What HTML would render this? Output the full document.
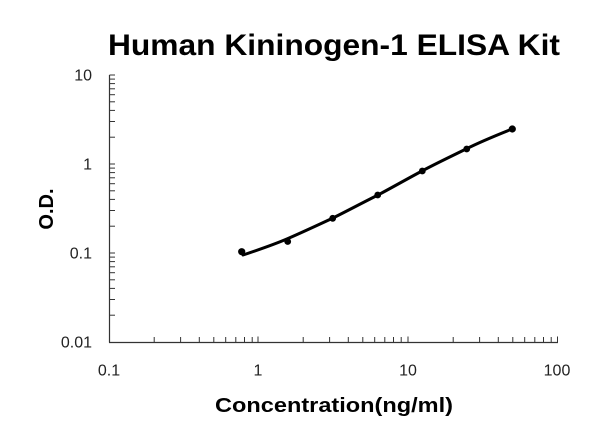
<!DOCTYPE html>
<html>
<head>
<meta charset="utf-8">
<style>
html,body{margin:0;padding:0;background:#fff;}
svg{display:block;}
text{font-family:"Liberation Sans",Arial,sans-serif;}
</style>
</head>
<body>
<svg width="600" height="439" viewBox="0 0 600 439" xmlns="http://www.w3.org/2000/svg">
<rect width="600" height="439" fill="#fff"/>
<text x="334" y="55" font-size="30" font-weight="bold" text-anchor="middle" textLength="452" lengthAdjust="spacingAndGlyphs" fill="#000">Human Kininogen-1 ELISA Kit</text>
<g stroke="#333" stroke-width="1.2" fill="none">
<line x1="109.5" y1="75" x2="109.5" y2="342.5"/>
<line x1="109" y1="342.5" x2="558" y2="342.5"/>
</g>
<g stroke="#333" stroke-width="1">
<line x1="109.5" y1="75" x2="115" y2="75"/>
<line x1="109.5" y1="164" x2="115" y2="164"/>
<line x1="109.5" y1="253" x2="115" y2="253"/>
<line x1="109.5" y1="137.2" x2="115" y2="137.2"/>
<line x1="109.5" y1="121.5" x2="115" y2="121.5"/>
<line x1="109.5" y1="110.4" x2="115" y2="110.4"/>
<line x1="109.5" y1="101.8" x2="115" y2="101.8"/>
<line x1="109.5" y1="94.7" x2="115" y2="94.7"/>
<line x1="109.5" y1="88.8" x2="115" y2="88.8"/>
<line x1="109.5" y1="83.6" x2="115" y2="83.6"/>
<line x1="109.5" y1="79.1" x2="115" y2="79.1"/>
<line x1="109.5" y1="226.2" x2="115" y2="226.2"/>
<line x1="109.5" y1="210.5" x2="115" y2="210.5"/>
<line x1="109.5" y1="199.4" x2="115" y2="199.4"/>
<line x1="109.5" y1="190.8" x2="115" y2="190.8"/>
<line x1="109.5" y1="183.7" x2="115" y2="183.7"/>
<line x1="109.5" y1="177.8" x2="115" y2="177.8"/>
<line x1="109.5" y1="172.6" x2="115" y2="172.6"/>
<line x1="109.5" y1="168.1" x2="115" y2="168.1"/>
<line x1="109.5" y1="315.2" x2="115" y2="315.2"/>
<line x1="109.5" y1="299.5" x2="115" y2="299.5"/>
<line x1="109.5" y1="288.4" x2="115" y2="288.4"/>
<line x1="109.5" y1="279.8" x2="115" y2="279.8"/>
<line x1="109.5" y1="272.7" x2="115" y2="272.7"/>
<line x1="109.5" y1="266.8" x2="115" y2="266.8"/>
<line x1="109.5" y1="261.6" x2="115" y2="261.6"/>
<line x1="109.5" y1="257.1" x2="115" y2="257.1"/>
<line x1="258" y1="342.5" x2="258" y2="336.5"/>
<line x1="408" y1="342.5" x2="408" y2="336.5"/>
<line x1="557.5" y1="342.5" x2="557.5" y2="336.5"/>
<line x1="154.2" y1="342.5" x2="154.2" y2="337"/>
<line x1="180.6" y1="342.5" x2="180.6" y2="337"/>
<line x1="199.3" y1="342.5" x2="199.3" y2="337"/>
<line x1="213.8" y1="342.5" x2="213.8" y2="337"/>
<line x1="225.7" y1="342.5" x2="225.7" y2="337"/>
<line x1="235.8" y1="342.5" x2="235.8" y2="337"/>
<line x1="244.5" y1="342.5" x2="244.5" y2="337"/>
<line x1="252.2" y1="342.5" x2="252.2" y2="337"/>
<line x1="303.2" y1="342.5" x2="303.2" y2="337"/>
<line x1="329.6" y1="342.5" x2="329.6" y2="337"/>
<line x1="348.3" y1="342.5" x2="348.3" y2="337"/>
<line x1="362.8" y1="342.5" x2="362.8" y2="337"/>
<line x1="374.7" y1="342.5" x2="374.7" y2="337"/>
<line x1="384.8" y1="342.5" x2="384.8" y2="337"/>
<line x1="393.5" y1="342.5" x2="393.5" y2="337"/>
<line x1="401.2" y1="342.5" x2="401.2" y2="337"/>
<line x1="453.2" y1="342.5" x2="453.2" y2="337"/>
<line x1="479.6" y1="342.5" x2="479.6" y2="337"/>
<line x1="498.3" y1="342.5" x2="498.3" y2="337"/>
<line x1="512.8" y1="342.5" x2="512.8" y2="337"/>
<line x1="524.7" y1="342.5" x2="524.7" y2="337"/>
<line x1="534.8" y1="342.5" x2="534.8" y2="337"/>
<line x1="543.5" y1="342.5" x2="543.5" y2="337"/>
<line x1="551.2" y1="342.5" x2="551.2" y2="337"/>
</g>
<g font-size="16" fill="#222" text-anchor="end">
<text x="92" y="80.5">10</text>
<text x="92" y="169.5">1</text>
<text x="92" y="258.5">0.1</text>
<text x="92" y="347.5">0.01</text>
</g>
<g font-size="16" fill="#222" text-anchor="middle">
<text x="109" y="375.5">0.1</text>
<text x="258" y="375.5">1</text>
<text x="408" y="375.5">10</text>
<text x="557" y="375.5">100</text>
</g>
<text x="334" y="412" font-size="20" font-weight="bold" text-anchor="middle" textLength="238" lengthAdjust="spacingAndGlyphs" fill="#000">Concentration(ng/ml)</text>
<text transform="translate(53,209) rotate(-90)" font-size="20" font-weight="bold" text-anchor="middle" fill="#000">O.D.</text>
<path d="M243,255 C258,250 273,245 288,238.5 C303,232 318,225 333,218 C348,210.5 363,202.5 378,195 C393,187 407,179 422,171 C437,163 452,156 467,148.5 C482,141 497,135 512,129" fill="none" stroke="#000" stroke-width="3" stroke-linecap="round" stroke-linejoin="round"/>
<g fill="#000">
<circle cx="241.7" cy="251.7" r="3.6"/>
<circle cx="287.7" cy="241.5" r="3.4"/>
<circle cx="332.7" cy="218.3" r="3.4"/>
<circle cx="377.7" cy="195" r="3.4"/>
<circle cx="422.3" cy="171" r="3.4"/>
<circle cx="466.7" cy="149" r="3.4"/>
<circle cx="512.3" cy="129" r="3.6"/>
</g>
</svg>
</body>
</html>
